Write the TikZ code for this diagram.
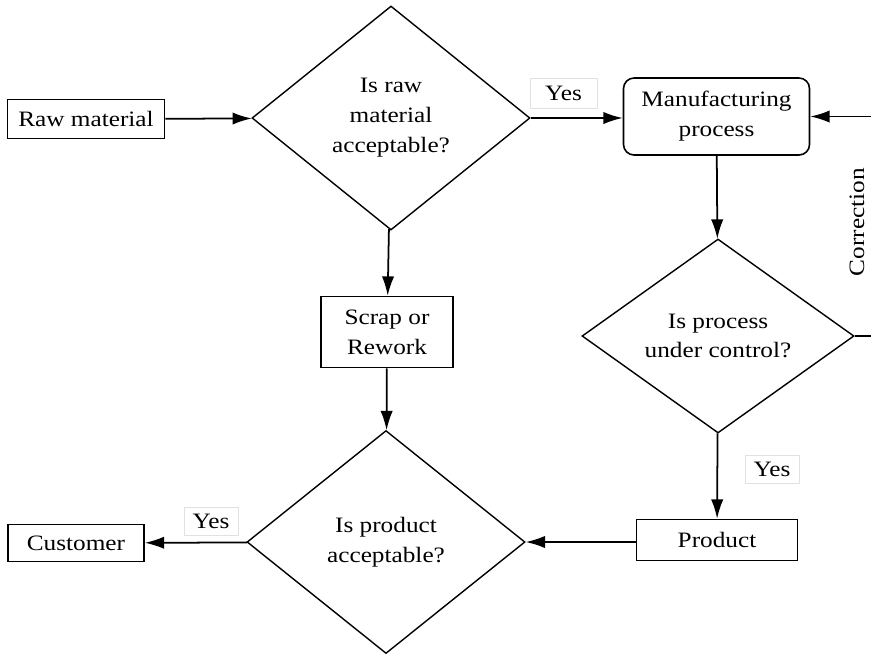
\documentclass[tikz,border=0pt]{standalone}
\usepackage{fontspec}
\setmainfont{Liberation Serif}[FakeStretch=1.15]
\usepackage{xcolor}
\usetikzlibrary{arrows.meta,positioning,shapes.geometric}
\definecolor{labelgray}{RGB}{225,225,225}

\begin{document}
\begin{tikzpicture}[
  every node/.style={font=\fontsize{12.5}{17}\selectfont},
  proc/.style={draw=black, line width=0.9pt, fill=white, align=center, inner sep=2pt},
  decide/.style={draw=black, line width=0.8pt, diamond, fill=white, align=center, inner sep=0pt},
  yesbox/.style={draw=labelgray, fill=white, minimum width=1.08cm, minimum height=0.56cm, inner sep=1pt},
  flow/.style={-{Latex[length=11pt,width=7pt]}, line width=1pt}
]
\useasboundingbox (0,0) rectangle (17.42,-13.12);

\node[proc, minimum width=3.14cm, minimum height=0.78cm] (raw) at (1.72,-2.38) {Raw material};
\node[decide, minimum width=5.56cm, minimum height=4.48cm] (chkraw) at (7.82,-2.36) {Is raw\\material\\acceptable?};
\node[yesbox, minimum width=1.34cm, minimum height=0.6cm] (yes1) at (11.27,-1.86) {Yes};
\node[proc, rounded corners=6pt, minimum width=3.72cm, minimum height=1.54cm] (mfg) at (14.33,-2.33) {Manufacturing\\process};
\node[decide, minimum width=5.44cm, minimum height=3.88cm] (chkproc) at (14.36,-6.72) {Is process\\under control?};
\node[rotate=90] (corrlbl) at (17.14,-4.44) {Correction};
\node[yesbox] (yes2) at (15.44,-9.38) {Yes};
\node[proc, minimum width=3.22cm, minimum height=0.82cm] (prod) at (14.34,-10.8) {Product};
\node[proc, minimum width=2.64cm, minimum height=1.42cm] (scrap) at (7.74,-6.64) {Scrap or\\Rework};
\node[decide, minimum width=5.56cm, minimum height=4.46cm] (chkprod) at (7.72,-10.84) {Is product\\acceptable?};
\node[yesbox] (yes3) at (4.22,-10.42) {Yes};
\node[proc, minimum width=2.72cm, minimum height=0.74cm] (cust) at (1.52,-10.86) {Customer};

% feedback loop runs off the right side
\coordinate (corr) at (17.9,-6.72);

\draw[flow] (raw) -- (chkraw);
\draw[flow] (chkraw.east) -- (mfg.west |- chkraw.east);
\draw[flow] (chkraw) -- (scrap);
\draw[flow] (mfg) -- (chkproc);
\draw[flow] (chkproc) -- (prod);
\draw[flow] (scrap) -- (chkprod);
\draw[flow] (prod.west |- chkprod.east) -- (chkprod.east);
\draw[flow] (chkprod) -- (cust);
\draw[flow] (chkproc.east) -- (corr) |- (mfg.east);
\end{tikzpicture}
\end{document}
